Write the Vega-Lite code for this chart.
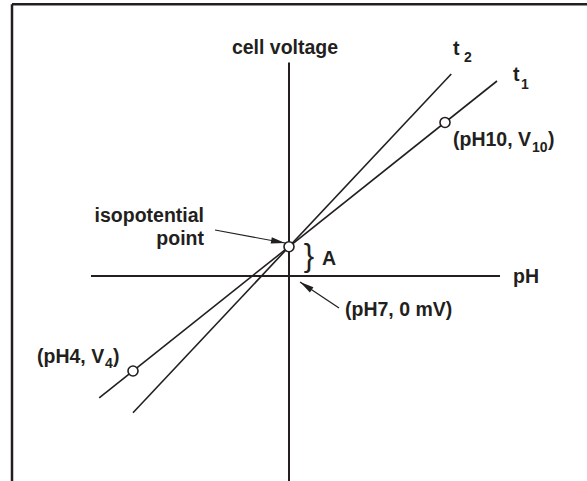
{
  "$schema": "https://vega.github.io/schema/vega-lite/v6.json",
  "width": 587,
  "height": 481,
  "autosize": {"type": "none"},
  "padding": 0,
  "background": "white",
  "config": {"view": {"stroke": null}, "font": "Liberation Sans"},
  "datasets": {
    "rules": [
      {"kind": "frame", "pH": 1.673, "mV": 380.5, "pH2": 12.75, "mV2": 380.5},
      {"kind": "frame", "pH": 1.673, "mV": 380.5, "pH2": 1.673, "mV2": -290},
      {"kind": "axis", "pH": 3.192, "mV": 0, "pH2": 11.058, "mV2": 0},
      {"kind": "axis", "pH": 7, "mV": 299, "pH2": 7, "mV2": -290},
      {"kind": "line", "name": "t1", "pH": 3.35, "mV": -170.7, "pH2": 11.0, "mV2": 273},
      {"kind": "line", "name": "t2", "pH": 4.0, "mV": -191.5, "pH2": 10.12, "mV2": 282.8},
      {"kind": "arrow", "name": "iso", "pH": 5.577, "mV": 64.4, "pH2": 6.923, "mV2": 46.2},
      {"kind": "arrow", "name": "ph7", "pH": 7.962, "mV": -44.8, "pH2": 7.212, "mV2": -8.4}
    ],
    "points": [
      {"name": "pH4", "pH": 4, "mV": -133},
      {"name": "isopotential", "pH": 7, "mV": 41},
      {"name": "pH10", "pH": 10, "mV": 215}
    ],
    "heads": [
      {"arrow": "iso", "pH": 6.923, "mV": 46.2},
      {"arrow": "ph7", "pH": 7.212, "mV": -8.4}
    ],
    "texts": [
      {"role": "center", "label": "cell voltage", "pH": 6.923, "mV": 310.8},
      {"role": "left", "label": "t", "pH": 10.154, "mV": 309.4},
      {"role": "sub", "label": "2", "pH": 10.365, "mV": 299.6},
      {"role": "left", "label": "t", "pH": 11.308, "mV": 273},
      {"role": "sub", "label": "1", "pH": 11.462, "mV": 261.8},
      {"role": "left", "label": "(pH10, V", "pH": 10.154, "mV": 182},
      {"role": "sub", "label": "10", "pH": 11.673, "mV": 173.6},
      {"role": "left", "label": ")", "pH": 11.981, "mV": 182},
      {"role": "left", "label": "(pH4, V", "pH": 2.154, "mV": -121.8},
      {"role": "sub", "label": "4", "pH": 3.462, "mV": -128.8},
      {"role": "left", "label": ")", "pH": 3.615, "mV": -121.8},
      {"role": "left", "label": "(pH7, 0 mV)", "pH": 8.077, "mV": -56},
      {"role": "right", "label": "isopotential", "pH": 5.365, "mV": 75.6},
      {"role": "right", "label": "point", "pH": 5.365, "mV": 43.4},
      {"role": "left", "label": "A", "pH": 7.635, "mV": 15.4},
      {"role": "brace", "label": "}", "pH": 7.385, "mV": 14.7},
      {"role": "left", "label": "pH", "pH": 11.308, "mV": -9.8}
    ]
  },
  "encoding": {
    "x": {"field": "pH", "type": "quantitative", "scale": {"domain": [1.4423, 12.7308], "nice": false, "zero": false}, "axis": null},
    "y": {"field": "mV", "type": "quantitative", "scale": {"domain": [-287, 386.4], "nice": false, "zero": false}, "axis": null}
  },
  "layer": [
    {
      "data": {"name": "rules"},
      "transform": [{"filter": "datum.kind == 'frame'"}],
      "mark": {"type": "rule", "color": "#231f20", "strokeWidth": 2.5},
      "encoding": {"x2": {"field": "pH2"}, "y2": {"field": "mV2"}}
    },
    {
      "data": {"name": "rules"},
      "transform": [{"filter": "datum.kind == 'axis'"}],
      "mark": {"type": "rule", "color": "#231f20", "strokeWidth": 2},
      "encoding": {"x2": {"field": "pH2"}, "y2": {"field": "mV2"}}
    },
    {
      "data": {"name": "rules"},
      "transform": [{"filter": "datum.kind == 'line'"}],
      "mark": {"type": "rule", "color": "#231f20", "strokeWidth": 1.6},
      "encoding": {"x2": {"field": "pH2"}, "y2": {"field": "mV2"}}
    },
    {
      "data": {"name": "rules"},
      "transform": [{"filter": "datum.kind == 'arrow'"}],
      "mark": {"type": "rule", "color": "#231f20", "strokeWidth": 1.2},
      "encoding": {"x2": {"field": "pH2"}, "y2": {"field": "mV2"}}
    },
    {
      "data": {"name": "heads"},
      "transform": [{"filter": "datum.arrow == 'iso'"}],
      "mark": {"type": "point", "shape": "M0,0L-2,-0.45L-2,0.45Z", "size": 196, "angle": 10.5, "filled": true, "color": "#231f20", "opacity": 1}
    },
    {
      "data": {"name": "heads"},
      "transform": [{"filter": "datum.arrow == 'ph7'"}],
      "mark": {"type": "point", "shape": "M0,0L-2,-0.45L-2,0.45Z", "size": 196, "angle": 213.7, "filled": true, "color": "#231f20", "opacity": 1}
    },
    {
      "data": {"name": "points"},
      "mark": {"type": "point", "shape": "circle", "size": 100, "filled": true, "fill": "white", "stroke": "#231f20", "strokeWidth": 1.6, "opacity": 1}
    },
    {
      "data": {"name": "texts"},
      "transform": [{"filter": "datum.role == 'center'"}],
      "mark": {"type": "text", "align": "center", "baseline": "alphabetic", "fontSize": 19.5, "fontWeight": "bold", "color": "#231f20"},
      "encoding": {"text": {"field": "label"}}
    },
    {
      "data": {"name": "texts"},
      "transform": [{"filter": "datum.role == 'left'"}],
      "mark": {"type": "text", "align": "left", "baseline": "alphabetic", "fontSize": 19.5, "fontWeight": "bold", "color": "#231f20"},
      "encoding": {"text": {"field": "label"}}
    },
    {
      "data": {"name": "texts"},
      "transform": [{"filter": "datum.role == 'right'"}],
      "mark": {"type": "text", "align": "right", "baseline": "alphabetic", "fontSize": 19.5, "fontWeight": "bold", "color": "#231f20"},
      "encoding": {"text": {"field": "label"}}
    },
    {
      "data": {"name": "texts"},
      "transform": [{"filter": "datum.role == 'sub'"}],
      "mark": {"type": "text", "align": "left", "baseline": "alphabetic", "fontSize": 14, "fontWeight": "bold", "color": "#231f20"},
      "encoding": {"text": {"field": "label"}}
    },
    {
      "data": {"name": "texts"},
      "transform": [{"filter": "datum.role == 'brace'"}],
      "mark": {"type": "text", "align": "center", "baseline": "alphabetic", "fontSize": 31, "fontWeight": "normal", "color": "#231f20"},
      "encoding": {"text": {"field": "label"}}
    }
  ]
}
